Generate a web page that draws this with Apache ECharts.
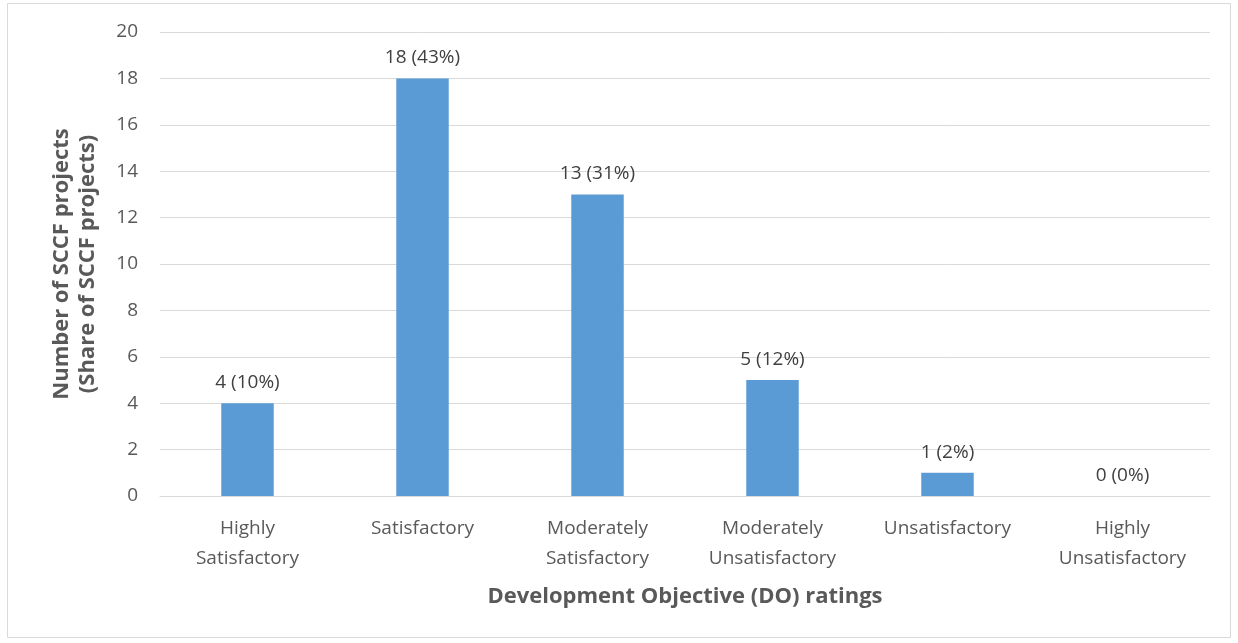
<!DOCTYPE html>
<html>
<head>
<meta charset="utf-8">
<script src="https://cdn.jsdelivr.net/npm/echarts@6/dist/echarts.min.js"></script>
<style>
html, body { margin: 0; padding: 0; background: #fff; }
#chart { width: 1238px; height: 643px; }
</style>
</head>
<body>
<div id="chart"></div>
<script>
var categories = ['Highly\nSatisfactory', 'Satisfactory', 'Moderately\nSatisfactory',
  'Moderately\nUnsatisfactory', 'Unsatisfactory', 'Highly\nUnsatisfactory'];
var projects = [4, 18, 13, 5, 1, 0];
var shares = [10, 43, 31, 12, 2, 0];
var yTicks = [0, 2, 4, 6, 8, 10, 12, 14, 16, 18, 20];

var font = '"Open Sans", "Noto Sans", sans-serif';
var chart = echarts.init(document.getElementById('chart'));

chart.setOption({
  animation: false,
  textStyle: { fontFamily: font },
  grid: { left: 160, right: 28, top: 32, bottom: 147 },
  graphic: [{
    type: 'rect',
    shape: { x: 7.5, y: 3.5, width: 1223, height: 634 },
    style: { fill: 'none', stroke: '#d9d9d9', lineWidth: 1 },
    silent: true
  }],
  xAxis: {
    type: 'category',
    data: categories,
    name: 'Development Objective (DO) ratings',
    nameLocation: 'middle',
    nameGap: 90,
    nameTextStyle: { fontSize: 22, fontWeight: 'bold', color: '#595959', fontFamily: font },
    axisLine: { lineStyle: { color: '#d9d9d9', width: 1 } },
    axisTick: { show: false },
    axisLabel: { fontSize: 19, color: '#595959', lineHeight: 30, margin: 18, interval: 0 }
  },
  yAxis: {
    type: 'value',
    min: yTicks[0],
    max: yTicks[yTicks.length - 1],
    interval: 2,
    name: 'Number of SCCF projects\n(Share of SCCF projects)',
    nameLocation: 'middle',
    nameGap: 59,
    nameRotate: 90,
    nameTextStyle: { fontSize: 22, fontWeight: 'bold', color: '#595959', lineHeight: 26, fontFamily: font },
    axisLine: { show: false },
    axisTick: { show: false },
    axisLabel: { fontSize: 19, color: '#595959', margin: 22 },
    splitLine: { lineStyle: { color: '#d9d9d9', width: 1 } }
  },
  series: [{
    type: 'bar',
    data: projects,
    barWidth: '30%',
    itemStyle: { color: '#5b9bd5' },
    label: {
      show: true,
      position: 'top',
      distance: 11,
      fontSize: 19,
      color: '#404040',
      formatter: function (p) {
        return p.value + ' (' + shares[p.dataIndex] + '%)';
      }
    }
  }]
});
</script>
</body>
</html>
